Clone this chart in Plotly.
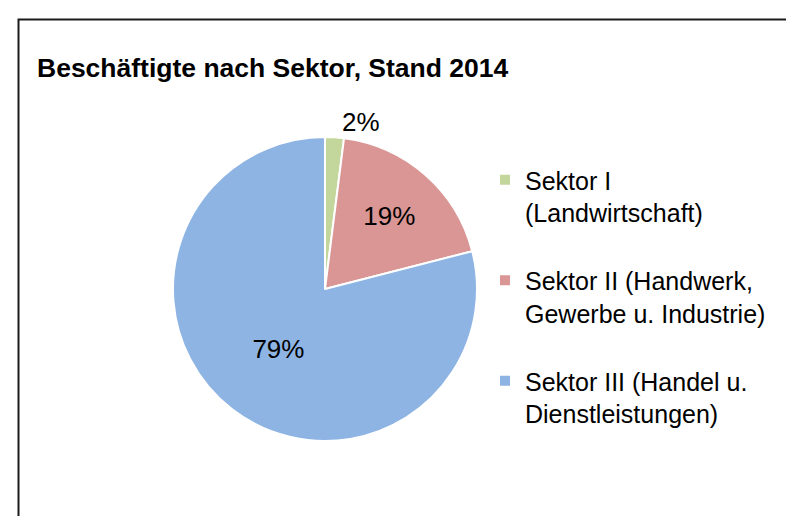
import plotly.graph_objects as go

W, H = 794, 516

title_text = "Beschäftigte nach Sektor, Stand 2014"
sectors = [
    "Sektor I<br>(Landwirtschaft)<br> ",
    "Sektor II (Handwerk,<br>Gewerbe u. Industrie)<br> ",
    "Sektor III (Handel u.<br>Dienstleistungen)<br> ",
]
shares = [2, 19, 79]
colors = ["#c3d69b", "#d99694", "#8eb4e3"]
text_pos = ["outside", "inside", "inside"]

FONT = "Liberation Sans, Arial, sans-serif"

fig = go.Figure(
    go.Pie(
        labels=sectors,
        values=shares,
        sort=False,
        direction="clockwise",
        rotation=0,
        marker=dict(colors=colors, line=dict(color="white", width=2)),
        texttemplate="%{percent:.0%}",
        textposition=text_pos,
        insidetextorientation="horizontal",
        textfont=dict(family=FONT, size=26, color="black"),
        hoverinfo="label+percent",
        domain=dict(x=[165 / W, 469 / W], y=[1 - 433 / H, 1 - 129 / H]),
    )
)

fig.update_layout(
    width=W,
    height=H,
    margin=dict(l=0, r=0, t=0, b=0),
    paper_bgcolor="white",
    plot_bgcolor="white",
    font=dict(family=FONT, color="black"),
    title=dict(
        text="<b>" + title_text + "</b>",
        x=29 / W,
        xanchor="left",
        xref="paper",
        y=1 - 60 / H,
        yanchor="middle",
        yref="paper",
        font=dict(family=FONT, size=26.5, color="black"),
    ),
    showlegend=True,
    legend=dict(
        x=477 / W,
        xanchor="left",
        y=1 - 149 / H,
        yanchor="top",
        valign="top",
        font=dict(family=FONT, size=25, color="black"),
        bgcolor="rgba(0,0,0,0)",
        borderwidth=0,
    ),
    shapes=[
        dict(
            type="rect",
            xref="paper",
            yref="paper",
            x0=10.5 / W,
            y0=-0.05,
            x1=1.05,
            y1=1 - 11.5 / H,
            line=dict(color="#1a1a1a", width=2),
            fillcolor="rgba(0,0,0,0)",
            layer="below",
        )
    ],
)

fig.write_html("out.html")
